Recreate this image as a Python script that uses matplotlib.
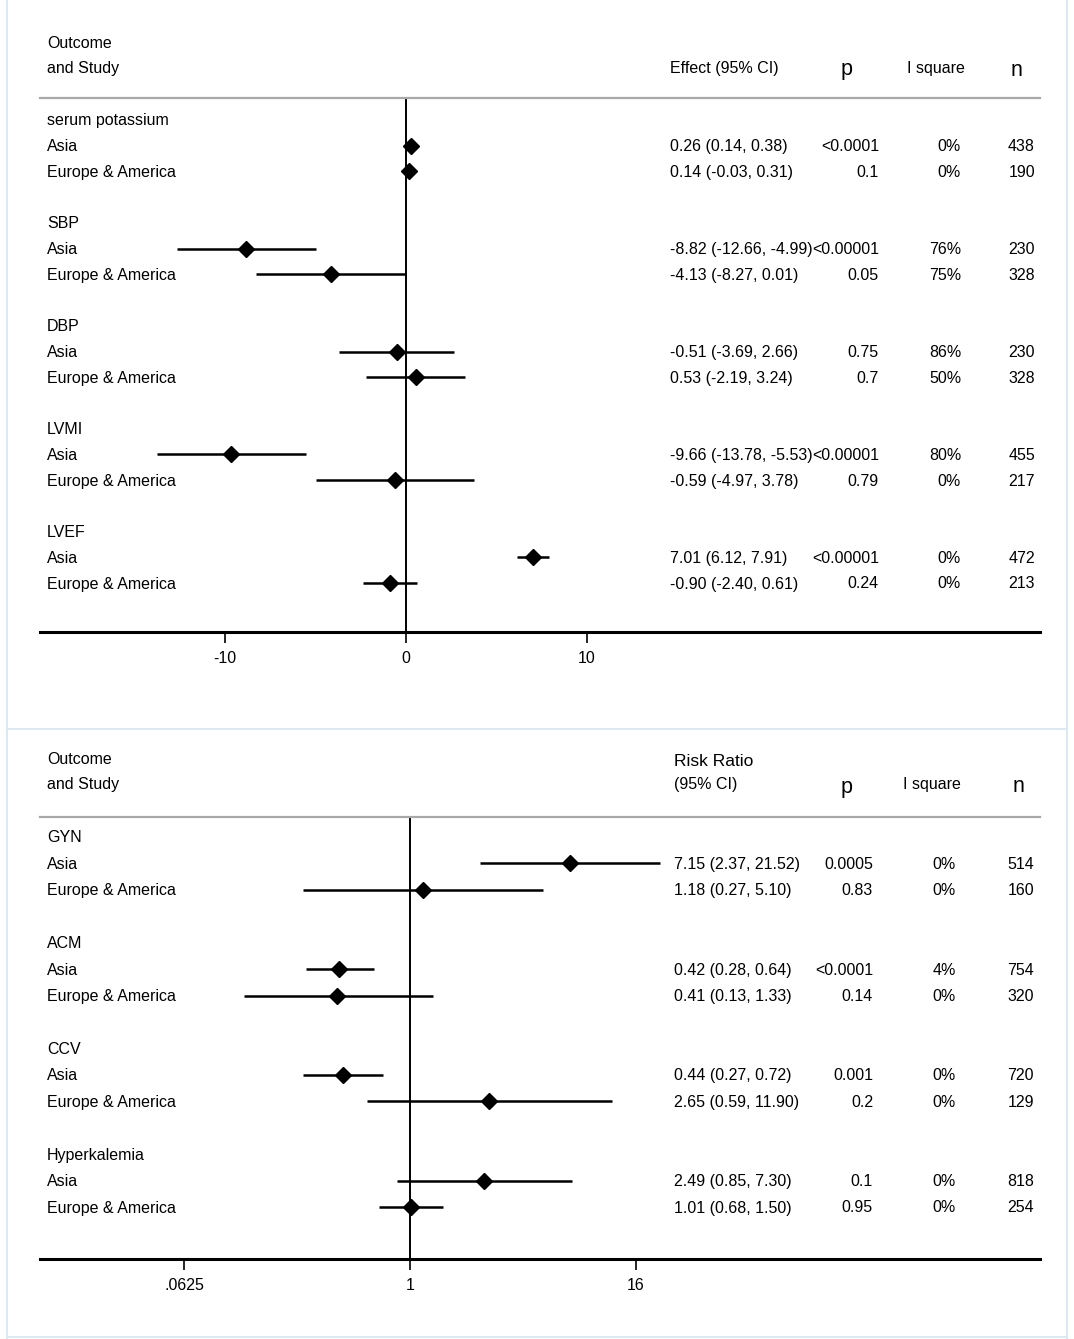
import matplotlib
matplotlib.use("Agg")
import matplotlib.pyplot as plt
from matplotlib.lines import Line2D
import numpy as np

plt.rcParams['font.family'] = ['Liberation Sans', 'DejaVu Sans']

# ---------------- data ----------------
regions = ["Asia", "Europe & America"]

top_outcomes = ["serum potassium", "SBP", "DBP", "LVMI", "LVEF"]
top_est = [[0.26, 0.14], [-8.82, -4.13], [-0.51, 0.53], [-9.66, -0.59], [7.01, -0.90]]
top_lo = [[0.14, -0.03], [-12.66, -8.27], [-3.69, -2.19], [-13.78, -4.97], [6.12, -2.40]]
top_hi = [[0.38, 0.31], [-4.99, 0.01], [2.66, 3.24], [-5.53, 3.78], [7.91, 0.61]]
top_p = [["<0.0001", "0.1"], ["<0.00001", "0.05"], ["0.75", "0.7"], ["<0.00001", "0.79"], ["<0.00001", "0.24"]]
top_i2 = [["0%", "0%"], ["76%", "75%"], ["86%", "50%"], ["80%", "0%"], ["0%", "0%"]]
top_n = [[438, 190], [230, 328], [230, 328], [455, 217], [472, 213]]
top_ticks = [-10, 0, 10]
top_ticklabels = ["-10", "0", "10"]

bot_outcomes = ["GYN", "ACM", "CCV", "Hyperkalemia"]
bot_est = [[7.15, 1.18], [0.42, 0.41], [0.44, 2.65], [2.49, 1.01]]
bot_lo = [[2.37, 0.27], [0.28, 0.13], [0.27, 0.59], [0.85, 0.68]]
bot_hi = [[21.52, 5.10], [0.64, 1.33], [0.72, 11.90], [7.30, 1.50]]
bot_p = [["0.0005", "0.83"], ["<0.0001", "0.14"], ["0.001", "0.2"], ["0.1", "0.95"]]
bot_i2 = [["0%", "0%"], ["4%", "0%"], ["0%", "0%"], ["0%", "0%"]]
bot_n = [[514, 160], [754, 320], [720, 129], [818, 254]]
bot_ticks = [0.0625, 1, 16]
bot_ticklabels = [".0625", "1", "16"]

# ---------------- layout ----------------
W, H = 1074, 1339
fig = plt.figure(figsize=(W / 100, H / 100), dpi=100)
fig.patch.set_facecolor("white")

FS = 11.5
BIG = 15.5


def fx(px):
    return px / W


def fy(py):
    return 1 - py / H


def axx(px):
    return (px - 40) / 1000.0


# panel borders (light blue)
bc = "#dce9f0"
for (x0, y0, x1, y1) in [(7, 0, 7, H), (1067, 0, 1067, H), (7, 729, 1067, 729), (7, 1337, 1067, 1337)]:
    fig.add_artist(Line2D([fx(x0), fx(x1)], [fy(y0), fy(y1)], color=bc, lw=1.5))


def panel(top_px, bot_px, row0_px, row_step, outcomes, est, lo, hi, pvals, i2, ns,
          ticks, ticklabels, logscale, xlim, eff_x, p_right, i2_right, n_right):
    ax = fig.add_axes([fx(40), fy(bot_px), 1000 / W, (bot_px - top_px) / H])
    ax.set_facecolor("none")
    ymin = (top_px - row0_px) / row_step
    ymax = (bot_px - row0_px) / row_step
    ax.set_ylim(ymax, ymin)
    if logscale:
        ax.set_xscale("log", base=2)
    ax.set_xlim(*xlim)
    ax.set_xticks(ticks)
    ax.set_xticklabels(ticklabels)
    ax.minorticks_off()
    ax.set_yticks([])
    for s in ["left", "right"]:
        ax.spines[s].set_visible(False)
    ax.spines["top"].set_color("#a8a8a8")
    ax.spines["top"].set_linewidth(1.6)
    ax.spines["bottom"].set_linewidth(2.2)
    ax.tick_params(axis="x", direction="out", length=8, width=1.2, labelsize=FS, pad=6)

    ref = 1 if logscale else 0
    ax.axvline(ref, color="black", lw=1.4, zorder=1)

    tr = ax.get_yaxis_transform()
    toff = 1.0 / row_step  # text sits ~1 px lower than the marks
    for g, name in enumerate(outcomes):
        yh = 4 * g
        ax.text(axx(47), yh + toff, name, transform=tr, fontsize=FS, va="center", ha="left")
        for r, reg in enumerate(regions):
            y = yh + 1 + r
            yt = y + toff
            ax.text(axx(47), yt, reg, transform=tr, fontsize=FS, va="center", ha="left")
            ax.hlines(y, lo[g][r], hi[g][r], color="black", lw=1.8, zorder=2)
            ax.plot([est[g][r]], [y], marker="D", ms=8, color="black", zorder=3)
            ax.text(axx(eff_x), yt, f"{est[g][r]:.2f} ({lo[g][r]:.2f}, {hi[g][r]:.2f})",
                    transform=tr, fontsize=FS, va="center", ha="left")
            ax.text(axx(p_right), yt, pvals[g][r], transform=tr, fontsize=FS, va="center", ha="right")
            ax.text(axx(i2_right), yt, i2[g][r], transform=tr, fontsize=FS, va="center", ha="right")
            ax.text(axx(n_right), yt, str(ns[g][r]), transform=tr, fontsize=FS, va="center", ha="right")
    return ax, tr


def hy(py, row0, step):
    return (py - row0) / step


# top panel
row_step_t = (583 - 120) / 18.0
top_xlim = ((40 - 406) / 18.1, (1040 - 406) / 18.1)
ax1, tr1 = panel(98, 632, 120, row_step_t, top_outcomes, top_est, top_lo, top_hi, top_p, top_i2, top_n,
                 top_ticks, top_ticklabels, False, top_xlim, 670, 879, 961, 1035)

ax1.text(axx(47), hy(44, 120, row_step_t), "Outcome", transform=tr1, fontsize=FS, va="center")
ax1.text(axx(47), hy(69, 120, row_step_t), "and Study", transform=tr1, fontsize=FS, va="center")
ax1.text(axx(670), hy(69, 120, row_step_t), "Effect (95% CI)", transform=tr1, fontsize=FS, va="center")
ax1.text(axx(847), hy(70, 120, row_step_t), "p", transform=tr1, fontsize=BIG, va="center", ha="center")
ax1.text(axx(936), hy(69, 120, row_step_t), "I square", transform=tr1, fontsize=FS, va="center", ha="center")
ax1.text(axx(1017), hy(70, 120, row_step_t), "n", transform=tr1, fontsize=BIG, va="center", ha="center")

# bottom panel
row_step_b = (1207 - 837) / 14.0
px_per_log2 = 56.5
bot_xlim = (2 ** ((40 - 410) / px_per_log2), 2 ** ((1040 - 410) / px_per_log2))
ax2, tr2 = panel(817, 1259, 837, row_step_b, bot_outcomes, bot_est, bot_lo, bot_hi, bot_p, bot_i2, bot_n,
                 bot_ticks, bot_ticklabels, True, bot_xlim, 674, 873, 956, 1034)

ax2.text(axx(47), hy(759, 837, row_step_b), "Outcome", transform=tr2, fontsize=FS, va="center")
ax2.text(axx(47), hy(785, 837, row_step_b), "and Study", transform=tr2, fontsize=FS, va="center")
ax2.text(axx(674), hy(761, 837, row_step_b), "Risk Ratio", transform=tr2, fontsize=12.5, va="center")
ax2.text(axx(674), hy(785, 837, row_step_b), "(95% CI)", transform=tr2, fontsize=FS, va="center")
ax2.text(axx(847), hy(788, 837, row_step_b), "p", transform=tr2, fontsize=BIG, va="center", ha="center")
ax2.text(axx(932), hy(785, 837, row_step_b), "I square", transform=tr2, fontsize=FS, va="center", ha="center")
ax2.text(axx(1018), hy(786, 837, row_step_b), "n", transform=tr2, fontsize=BIG, va="center", ha="center")

fig.savefig("out.png", dpi=100, facecolor="white")
